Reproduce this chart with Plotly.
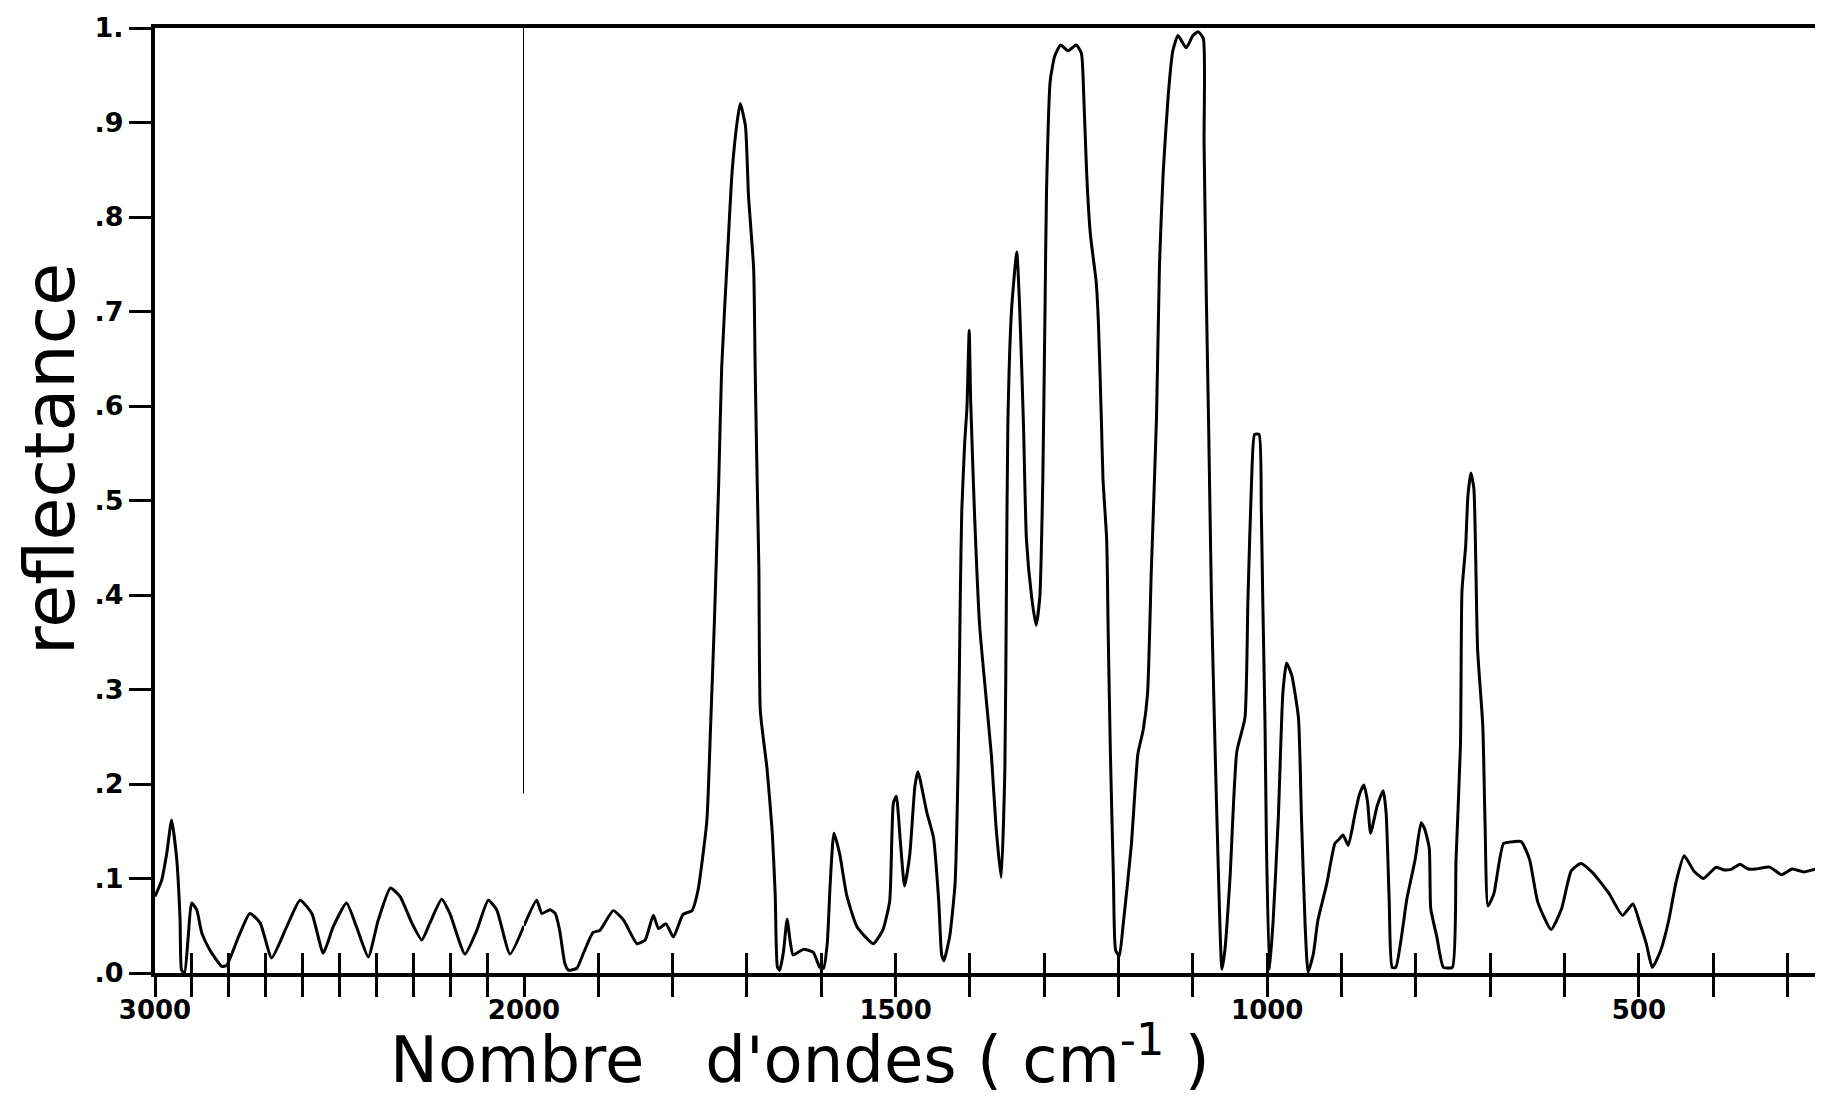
import plotly.graph_objects as go

# ---------------- data ----------------
wavenumber = [
    3000, 2982, 2968, 2955, 2941, 2932, 2928, 2920, 2910, 2901, 2887, 2873, 2851, 2819, 2806,
    2774, 2743, 2715, 2684, 2643, 2607, 2575, 2544, 2517, 2481, 2454, 2422, 2395, 2362, 2336,
    2304, 2277, 2255, 2223, 2201, 2160, 2128, 2097, 2074, 2038, 2000,
    1983, 1976, 1965, 1958, 1952, 1945, 1940, 1929, 1920, 1907, 1898, 1880, 1866, 1848, 1837,
    1826, 1819, 1809, 1799, 1786, 1774, 1766, 1754, 1749, 1744, 1738, 1734, 1726, 1720, 1713,
    1709, 1702, 1698, 1691, 1689, 1687, 1684, 1682, 1673, 1666, 1662, 1659, 1656, 1651, 1646,
    1642, 1638, 1631, 1624, 1611, 1602, 1597, 1592, 1588, 1583, 1575, 1566, 1552, 1530, 1517,
    1508, 1503, 1499, 1494, 1488, 1481, 1474, 1470, 1458, 1449, 1442, 1438, 1435, 1427, 1420,
    1416, 1413, 1411, 1407, 1404, 1401, 1399, 1394, 1387, 1378, 1371, 1365, 1358, 1353, 1351,
    1349, 1344, 1337, 1333, 1328, 1324, 1317, 1311, 1306, 1302, 1299, 1297, 1292, 1286, 1278,
    1268, 1257, 1250, 1247, 1243, 1238, 1230, 1227, 1223, 1221, 1216, 1214, 1211, 1207, 1204,
    1199, 1194, 1183, 1174, 1167, 1161, 1156, 1149, 1145, 1140, 1133, 1127, 1120, 1109, 1100,
    1093, 1086, 1085, 1082, 1079, 1075, 1070, 1066, 1061, 1057, 1050, 1041, 1030, 1026, 1021,
    1017, 1011, 1008, 1006, 1003, 1001, 997, 992, 985, 979, 974, 967, 958, 954, 949,
    945, 938, 932, 920, 909, 904, 898, 891, 882, 876, 870, 865, 861, 852, 844,
    840, 836, 832, 827, 812, 801, 793, 788, 782, 780, 772, 763, 751, 746, 740,
    738, 733, 730, 726, 722, 717, 710, 707, 703, 695, 682, 668, 658, 647, 636,
    618, 604, 591, 578, 562, 540, 522, 508, 498, 490, 482, 471, 460, 450, 439,
    426, 413, 396, 385, 375, 364, 353, 343, 324, 308, 294, 278, 262, 252,
]
reflectance = [
    0.081, 0.098, 0.127, 0.162, 0.120, 0.056, 0.003, 0.000, 0.038, 0.074, 0.067, 0.042, 0.024, 0.007, 0.008,
    0.038, 0.063, 0.053, 0.016, 0.049, 0.077, 0.063, 0.021, 0.049, 0.074, 0.049, 0.017, 0.056, 0.090, 0.081,
    0.053, 0.035, 0.053, 0.078, 0.063, 0.020, 0.045, 0.077, 0.067, 0.020, 0.050,
    0.077, 0.063, 0.067, 0.063, 0.045, 0.010, 0.003, 0.005, 0.021, 0.043, 0.045, 0.066, 0.056, 0.031, 0.035,
    0.061, 0.047, 0.052, 0.038, 0.062, 0.066, 0.087, 0.161, 0.260, 0.368, 0.520, 0.641, 0.763, 0.848, 0.902,
    0.920, 0.896, 0.823, 0.745, 0.641, 0.550, 0.429, 0.277, 0.216, 0.149, 0.083, 0.006, 0.003, 0.022, 0.057,
    0.034, 0.019, 0.022, 0.025, 0.022, 0.006, 0.005, 0.031, 0.095, 0.148, 0.125, 0.083, 0.049, 0.031, 0.046,
    0.076, 0.180, 0.187, 0.143, 0.092, 0.125, 0.198, 0.213, 0.170, 0.143, 0.076, 0.019, 0.013, 0.040, 0.095,
    0.216, 0.398, 0.489, 0.562, 0.599, 0.680, 0.605, 0.489, 0.368, 0.289, 0.229, 0.156, 0.101, 0.216, 0.398,
    0.581, 0.702, 0.763, 0.702, 0.581, 0.459, 0.398, 0.368, 0.398, 0.520, 0.702, 0.825, 0.944, 0.970, 0.982,
    0.976, 0.982, 0.973, 0.931, 0.847, 0.782, 0.730, 0.685, 0.581, 0.523, 0.458, 0.361, 0.232, 0.102, 0.024,
    0.018, 0.050, 0.134, 0.232, 0.257, 0.296, 0.425, 0.587, 0.749, 0.847, 0.931, 0.976, 0.992, 0.979, 0.992,
    0.996, 0.989, 0.879, 0.717, 0.587, 0.394, 0.232, 0.115, 0.004, 0.024, 0.102, 0.234, 0.270, 0.394, 0.523,
    0.570, 0.570, 0.490, 0.394, 0.264, 0.134, 0.004, 0.056, 0.166, 0.296, 0.328, 0.315, 0.270, 0.166, 0.050,
    0.001, 0.020, 0.055, 0.094, 0.137, 0.141, 0.146, 0.135, 0.168, 0.189, 0.199, 0.181, 0.148, 0.177, 0.193,
    0.169, 0.079, 0.006, 0.006, 0.079, 0.120, 0.159, 0.152, 0.132, 0.068, 0.039, 0.006, 0.006, 0.120, 0.242,
    0.404, 0.452, 0.505, 0.529, 0.513, 0.343, 0.262, 0.161, 0.071, 0.084, 0.137, 0.139, 0.139, 0.120, 0.075,
    0.046, 0.068, 0.108, 0.116, 0.106, 0.084, 0.061, 0.073, 0.051, 0.031, 0.006, 0.023, 0.055, 0.096, 0.124,
    0.108, 0.100, 0.112, 0.109, 0.110, 0.115, 0.110, 0.110, 0.112, 0.104, 0.110, 0.107, 0.110, 0.109,
]

# vertical pen mark at 2000 cm-1 (scale change)
marker_wn = [2000, 2000]
marker_refl = [0.19, 1.0]

# axis ticks / labels
scale_break = 2000
x_range_left = [3000, 2000]
x_range_right = [2000, 263]
x_left_ticks = list(range(3000, 1999, -100))        # every 100 cm-1
x_right_ticks = list(range(1900, 299, -100))
x_left_labels = [3000, 2000]
x_right_labels = [1500, 1000, 500]
y_ticks = [0.0, 0.1, 0.2, 0.3, 0.4, 0.5, 0.6, 0.7, 0.8, 0.9, 1.0]
y_text = [".0", ".1", ".2", ".3", ".4", ".5", ".6", ".7", ".8", ".9", "1."]

x_title = "Nombre\u00a0\u00a0 d'ondes (\u00a0cm<sup>-1</sup>\u00a0)"
y_title = "reflectance"

# ---------------- figure ----------------
# the page body has an 8px margin: figure spans page x 8..1815, y 8..1100
BODY = 8
W, H = 1823 - 2 * BODY, 1108 - 2 * BODY
plot_left, plot_top, plot_bottom = 155, 28, 973          # page coordinates
ML, MR, MT = plot_left - BODY, 0, plot_top - BODY
MB = H - (plot_bottom - BODY)
PW = W - ML - MR
PH = H - MT - MB
split_px = 524
dom_split = (split_px - plot_left) / PW

left_w = [w for w in wavenumber if w >= scale_break]
left_r = [r for w, r in zip(wavenumber, reflectance) if w >= scale_break]
right_w = [w for w in wavenumber if w <= scale_break]
right_r = [r for w, r in zip(wavenumber, reflectance) if w <= scale_break]

line_style = dict(color="black", width=3, shape="spline", smoothing=0.5)
fig = go.Figure()
fig.add_trace(go.Scatter(x=left_w, y=left_r, mode="lines", line=line_style,
                         xaxis="x", yaxis="y", showlegend=False))
fig.add_trace(go.Scatter(x=right_w, y=right_r, mode="lines", line=line_style,
                         xaxis="x2", yaxis="y", showlegend=False))
fig.add_trace(go.Scatter(x=marker_wn, y=marker_refl, mode="lines",
                         line=dict(color="black", width=2),
                         xaxis="x3", yaxis="y", showlegend=False))
fig.add_trace(go.Scatter(x=right_w, y=right_r, mode="lines",
                         line=dict(color="rgba(0,0,0,0)", width=0),
                         xaxis="x4", yaxis="y", showlegend=False, hoverinfo="skip"))

tick_font = dict(family="DejaVu Sans", size=26, color="black", weight="bold")
common_x = dict(showgrid=False, zeroline=False, anchor="y", ticklen=20, tickwidth=2.5,
                tickcolor="black", automargin=False, tickangle=0)


def minor_ticks(vals):
    return dict(ticks="outside", ticklen=20, tickwidth=2.5, tickcolor="black",
                tickmode="array", tickvals=vals, showgrid=False)


fig.update_layout(
    template="none",
    width=W, height=H, autosize=False,
    margin=dict(l=ML, r=MR, t=MT, b=MB, pad=0),
    paper_bgcolor="white", plot_bgcolor="white",
    xaxis=dict(domain=[0, dom_split], range=x_range_left, tickmode="array",
               tickvals=x_left_labels, ticktext=[str(v) for v in x_left_labels],
               ticks="outside", minor=minor_ticks(x_left_ticks),
               showline=True, linewidth=4, linecolor="black", mirror=True,
               tickfont=tick_font, ticklabelstandoff=-9, **common_x),
    xaxis2=dict(domain=[dom_split, 1], range=x_range_right, tickmode="array",
                tickvals=x_right_labels, ticktext=[str(v) for v in x_right_labels],
                ticks="outside", minor=minor_ticks(x_right_ticks),
                showline=True, linewidth=4, linecolor="black", mirror=True,
                tickfont=tick_font, ticklabelstandoff=-9, **common_x),
    xaxis3=dict(overlaying="x", range=x_range_left, tickmode="array",
                tickvals=x_left_ticks, ticks="inside", showticklabels=False,
                showline=False, **common_x),
    xaxis4=dict(overlaying="x2", range=x_range_right, tickmode="array",
                tickvals=x_right_ticks, ticks="inside", showticklabels=False,
                showline=False, **common_x),
    yaxis=dict(domain=[0, 1], range=[0, 1], tickmode="array", tickvals=y_ticks,
               ticktext=y_text, ticks="outside", ticklen=22, tickwidth=2.5,
               tickcolor="black", showline=True, linewidth=4, linecolor="black",
               showgrid=False, zeroline=False, anchor="x", automargin=False,
               tickfont=dict(family="DejaVu Sans", size=27, color="black", weight="bold")),
    annotations=[
        dict(text=x_title, xref="paper", yref="paper", x=(800 - plot_left) / PW,
             y=(plot_bottom - 1099) / PH, xanchor="center", yanchor="bottom",
             showarrow=False,
             font=dict(family="DejaVu Sans", size=64, color="black")),
        dict(text=y_title, xref="paper", yref="paper", x=(50 - plot_left) / PW,
             y=(plot_bottom - 459) / PH, xanchor="center", yanchor="middle",
             textangle=-90, showarrow=False,
             font=dict(family="DejaVu Sans", size=70, color="black")),
    ],
)

fig.write_html("out.html")
